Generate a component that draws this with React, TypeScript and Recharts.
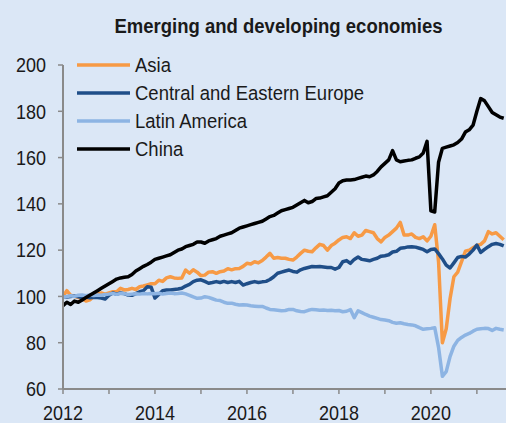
import React from 'react';
import { LineChart, Line, XAxis, YAxis } from 'recharts';

// Monthly index values, Jan 2012 onward
const asia = [
  100, 102.5, 100.5, 100, 99.5, 99, 98, 98.5, 100, 101, 101.5, 101,
  101.5, 102, 102, 103.5, 102.8, 103, 103.5, 103, 104.2, 104.5, 105, 105.5,
  105.5, 107, 106.5, 108, 108.5, 108, 107.8, 108, 111.4, 110, 111.5, 110.5,
  109, 109.2, 110.5, 110.7, 110, 110.7, 111, 112, 111.5, 112, 112.1, 113,
  114.3, 114, 115, 114.5, 115.5, 117, 118.6, 116.5, 116.8, 116.5, 116.5, 116,
  115.7, 117, 118.6, 120, 119.5, 119.3, 121, 122.5, 122, 120, 122, 123,
  124.4, 125.5, 125.8, 125, 127.5, 126, 126.5, 128.5, 128, 127.5, 125, 123.6,
  125.5, 126.5, 128, 129.5, 132, 126.5, 126.5, 127, 125.5, 125, 125.8, 124,
  126, 131, 115, 80, 86, 99, 108.5, 110.5, 115, 119.5, 120, 121,
  122, 122.5, 124, 128, 127, 127.5, 126, 124.5,
];
const cee = [
  100, 99.8, 100, 100.2, 99.8, 99.5, 99.7, 99.4, 99.6, 99.5, 99.3, 98.9,
  100.5, 101.5, 101, 101.5, 101.2, 100.6, 100.5, 101.2, 102, 102.5, 104.2, 104,
  99.3, 100.8, 102.5, 102.8, 102.8, 103, 103.2, 103.5, 104.5, 105.2, 106.4, 107,
  107.2, 106.5, 105.7, 106, 106.4, 106, 106.5, 106, 106.4, 106, 106.5, 104.9,
  105.5, 106, 106.4, 106, 106.3, 106.5, 107.3, 108.5, 110, 110.5, 111, 111.4,
  110.8, 110.5, 111.5, 112.1, 112.5, 112.9, 112.8, 112.9, 112.7, 112.5, 112.5, 111.8,
  112.5, 115, 115.5, 114.3, 116, 117, 116, 115.7, 115.4, 116, 116.5, 117.4,
  117.6, 118, 119.2, 119.5, 120.8, 121, 121.4, 121.5, 121.3, 120.8, 120.3, 119.3,
  120.3, 120.5, 118.5, 116.2, 113.5, 112.3, 114.5, 116.8, 117.3, 117, 118.3, 120,
  122.2, 119, 120.3, 121.5, 122.5, 122.9, 122.5, 121.8,
];
const latam = [
  99.8, 100, 100.3, 100, 100.5, 100.6, 100.3, 100.6, 100.4, 100.6, 100.5, 100.8,
  101, 101.3, 100.9, 101.3, 101.2, 100.8, 101, 101.2, 101, 101.3, 101.1, 101.3,
  101.2, 101.4, 101, 101.3, 101.5, 101.2, 101.3, 101.5, 101.1, 100.5, 99.8, 99.2,
  99.3, 99.9, 99.6, 99, 98.4, 98.2, 97.5, 97, 97.1, 96.6, 96.3, 96.4,
  96.3, 96, 95.8, 95.6, 95.7, 95, 94.4, 94.2, 94, 93.8, 93.9, 94.4,
  94.4, 93.8, 93.5, 93.4, 94, 94.4, 94.2, 94, 94.1, 93.9, 94, 93.8,
  93.9, 93.4, 93.6, 94.3, 90.8, 93.8, 93, 92.2, 91.5, 91, 90.5, 90,
  89.8, 89.5, 88.8, 88.4, 88.6, 88.2, 87.9, 87.7, 87.3, 86.5, 85.8, 86,
  86.2, 86.5, 78, 65.5, 67.5, 74, 78.5, 81, 82.3, 83.3, 84, 85,
  85.8, 86, 86.2, 86.1, 85.3, 86.2, 85.8, 85.5,
];
const china = [
  96, 97.5, 96.5, 98, 97.5, 98.5, 99.5, 100.5, 101.5, 102.5, 103.5, 104.5,
  105.5, 106.5, 107.5, 108, 108.3, 108.5, 109.5, 111, 112, 113, 113.8, 114.8,
  116, 116.5, 117, 117.5, 118, 119, 120, 120.5, 121.5, 122, 122.5, 123.5,
  123.5, 123, 124, 124.5, 125, 126, 126.5, 127, 127.5, 128.5, 129.5, 130,
  130.5, 131, 131.5, 132, 132.5, 133.5, 134.5, 135, 136, 137, 137.5, 138,
  138.5, 139.5, 140.5, 141.5, 140.5, 141, 142.3, 142.5, 143, 143.5, 145, 146.5,
  149, 150, 150.3, 150.3, 150.5, 151, 151.5, 152, 151.7, 152.5, 154, 156,
  157.5, 159, 163, 159, 158.2, 158.5, 158.8, 159, 159.7, 160.3, 162, 167,
  137, 136.5, 158, 164, 164.5, 165, 165.5, 166.5, 168, 171, 172, 174,
  180, 185.5, 184.5, 182, 179.5, 178.5, 177.5, 177,
];

const startYear = 2012;
const yearTicks = [0, 12, 24, 36, 48, 60, 72, 84, 96, 108];
const yTicks = [60, 80, 100, 120, 140, 160, 180, 200];

const seriesDefs = [
  { key: 'asia', name: 'Asia', color: '#f79a45' },
  { key: 'cee', name: 'Central and Eastern Europe', color: '#1f4e88' },
  { key: 'latam', name: 'Latin America', color: '#8db4e3' },
  { key: 'china', name: 'China', color: '#000000' },
];

const data = china.map((_, i) => ({
  m: i,
  asia: asia[i],
  cee: cee[i],
  latam: latam[i],
  china: china[i],
}));

const FONT = '"Liberation Sans", Arial, sans-serif';
const AXIS = '#8a8a8a';
const BG = '#dbe7f6';
const TEXT = '#1a1a1a';
const SY = 1.12;

const XTick = (props: any) => {
  const { x, y, payload } = props;
  const m = payload.value as number;
  const label = (m / 12) % 2 === 0 ? String(startYear + m / 12) : '';
  return (
    <text
      x={x}
      y={y}
      dy="0.71em"
      textAnchor="middle"
      fontSize={18}
      fontFamily={FONT}
      fill={TEXT}
      transform={`translate(0 ${y}) scale(1 ${SY}) translate(0 ${-y})`}
    >
      {label}
    </text>
  );
};

const YTick = (props: any) => {
  const { x, y, payload } = props;
  return (
    <text
      x={x}
      y={y}
      dy="0.36em"
      textAnchor="end"
      fontSize={18}
      fontFamily={FONT}
      fill={TEXT}
      transform={`translate(0 ${y}) scale(1 ${SY}) translate(0 ${-y})`}
    >
      {payload.value}
    </text>
  );
};

export default function App() {
  return (
    <div style={{ position: 'fixed', left: 0, top: 0, width: 506, height: 423, background: BG, overflow: 'hidden' }}>
      <div
        style={{
          position: 'absolute', left: 28, top: 17, width: 501, textAlign: 'center',
          fontFamily: FONT, fontWeight: 'bold', fontSize: 18.5, lineHeight: 1, color: TEXT,
          transform: `scaleY(${SY})`, transformOrigin: '50% 9px',
        }}
      >
        Emerging and developing economies
      </div>
      <LineChart width={506} height={423} data={data} margin={{ top: 65, right: 0, bottom: 4, left: 0 }}>
        <XAxis
          dataKey="m"
          type="number"
          domain={[0, 115.6]}
          allowDataOverflow
          ticks={yearTicks}
          interval={0}
          height={30}
          tickSize={5}
          tickMargin={12}
          axisLine={{ stroke: AXIS, strokeWidth: 2 }}
          tickLine={{ stroke: AXIS, strokeWidth: 1.5 }}
          tick={<XTick />}
        />
        <YAxis
          type="number"
          domain={[60, 200]}
          ticks={yTicks}
          interval={0}
          width={63}
          tickSize={5}
          tickMargin={12}
          axisLine={{ stroke: AXIS, strokeWidth: 2 }}
          tickLine={{ stroke: AXIS, strokeWidth: 1.5 }}
          tick={<YTick />}
        />
        {seriesDefs.map((s) => (
          <Line
            key={s.key}
            type="linear"
            dataKey={s.key}
            name={s.name}
            stroke={s.color}
            strokeWidth={3.5}
            strokeLinejoin="round"
            dot={false}
            activeDot={false}
            isAnimationActive={false}
          />
        ))}
      </LineChart>
      <svg width={320} height={112} style={{ position: 'absolute', left: 77, top: 51, display: 'block' }}>
        {seriesDefs.map((s, i) => {
          const cy = 14 + i * 28;
          return (
            <g key={s.key}>
              <line x1={0} x2={53} y1={cy} y2={cy} stroke={s.color} strokeWidth={3.5} />
              <text
                x={58}
                y={cy}
                dy="0.36em"
                fontSize={18.5}
                fontFamily={FONT}
                fill={TEXT}
                transform={`translate(0 ${cy}) scale(1 ${SY}) translate(0 ${-cy})`}
              >
                {s.name}
              </text>
            </g>
          );
        })}
      </svg>
    </div>
  );
}
